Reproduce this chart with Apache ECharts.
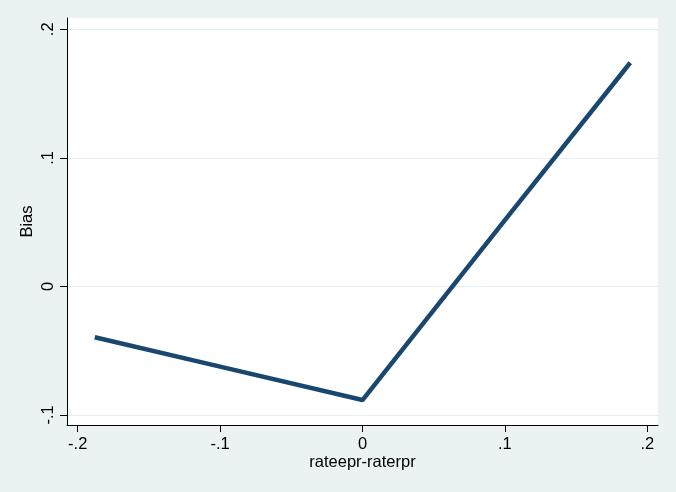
<!DOCTYPE html>
<html>
<head>
<meta charset="utf-8">
<script src="https://cdn.jsdelivr.net/npm/echarts@6/dist/echarts.min.js"></script>
<style>
html,body{margin:0;padding:0;background:#eaf2f3;}
#c{width:676px;height:492px;}
</style>
</head>
<body>
<div id="c"></div>
<script>
// Data
var xValues = [-0.188, -0.1, 0.0, 0.1, 0.188];
var biasValues = [-0.0395, -0.0624, -0.0884, 0.0515, 0.174];
var xTicks = [-0.2, -0.1, 0, 0.1, 0.2];
var yTicks = [-0.1, 0, 0.1, 0.2];
var xTitle = 'rateepr-raterpr';
var yTitle = 'Bias';

function stataFmt(v) {
  var s = (Math.round(v * 1000) / 1000).toString();
  return s.replace(/^(-?)0\./, '$1.');
}

var points = xValues.map(function (x, i) { return [x, biasValues[i]]; });
var font = '"Liberation Sans", Arial, sans-serif';

var chart = echarts.init(document.getElementById('c'), null, {renderer: 'canvas'});
chart.setOption({
  backgroundColor: '#eaf2f3',
  animation: false,
  grid: {left: 67, right: 18, top: 18, bottom: 67, show: true, backgroundColor: '#ffffff', borderWidth: 0},
  xAxis: {
    type: 'value',
    min: -0.2075, max: 0.2075,
    name: xTitle, nameLocation: 'middle', nameGap: 29, nameMoveOverlap: false,
    nameTextStyle: {color: '#000', fontSize: 16.5, fontFamily: font},
    axisLine: {show: true, onZero: false, lineStyle: {color: '#000', width: 1}},
    axisTick: {show: true, length: 7, lineStyle: {color: '#000'}, customValues: xTicks},
    axisLabel: {color: '#000', fontSize: 16.5, fontFamily: font, margin: 11, customValues: xTicks, formatter: stataFmt},
    splitLine: {show: false}
  },
  yAxis: {
    type: 'value',
    min: -0.1078, max: 0.2088,
    name: yTitle, nameLocation: 'middle', nameGap: 31, nameRotate: 90, nameMoveOverlap: false,
    nameTextStyle: {color: '#000', fontSize: 16.5, fontFamily: font},
    axisLine: {show: true, onZero: false, lineStyle: {color: '#000', width: 1}},
    axisTick: {show: true, length: 7, lineStyle: {color: '#000'}, customValues: yTicks},
    axisLabel: {color: '#000', fontSize: 16.5, fontFamily: font, margin: 10, rotate: 90, customValues: yTicks, formatter: stataFmt},
    splitLine: {show: true, lineStyle: {color: '#e6eef0', width: 1}}
  },
  series: [{
    type: 'line',
    data: points,
    symbol: 'none',
    lineStyle: {color: '#1a476f', width: 4.5},
    z: 5
  }]
});
</script>
</body>
</html>
